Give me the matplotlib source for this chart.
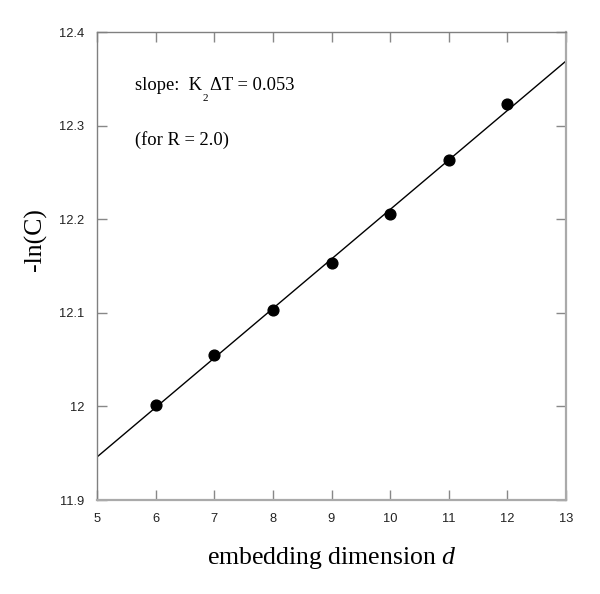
import matplotlib
matplotlib.use("Agg")
import matplotlib.pyplot as plt
import numpy as np

# data
dims = [6, 7, 8, 9, 10, 11, 12]
neg_ln_c = [12.002, 12.055, 12.103, 12.153, 12.206, 12.263, 12.323]
fit_x = [5, 13]
fit_y = [11.946, 12.369]

x_ticks = [5, 6, 7, 8, 9, 10, 11, 12, 13]
y_ticks = [11.9, 12.0, 12.1, 12.2, 12.3, 12.4]
y_labels = ["11.9", "12", "12.1", "12.2", "12.3", "12.4"]

plt.rcParams["mathtext.fontset"] = "custom"
plt.rcParams["mathtext.rm"] = "Liberation Serif"
plt.rcParams["mathtext.it"] = "Liberation Serif:italic"

fig = plt.figure(figsize=(6, 5.94), dpi=100)
ax = fig.add_axes([0.1617, 0.1582, 0.7816, 0.7879])

# fit line and data points
ax.plot(fit_x, fit_y, color="black", lw=1.0)
ax.scatter(dims, neg_ln_c, s=60, color="black", zorder=3)

ax.set_xlim(5, 13)
ax.set_ylim(11.9, 12.4)
ax.set_xticks(x_ticks)
ax.set_yticks(y_ticks)
ax.set_yticklabels(y_labels)

ax.tick_params(direction="in", length=7, width=1, color="#888888",
               top=True, right=True, labelsize=9.3, pad=9)
for lbl in ax.get_xticklabels() + ax.get_yticklabels():
    lbl.set_family("Liberation Sans")
    lbl.set_color("#222222")

for side in ["left", "top"]:
    ax.spines[side].set_color("#808080")
    ax.spines[side].set_linewidth(1.0)
for side in ["right", "bottom"]:
    ax.spines[side].set_color("#aaaaaa")
    ax.spines[side].set_linewidth(1.6)

ax.set_xlabel("embedding dimension $\\mathit{d}$", family="Liberation Serif",
              fontsize=18.5, labelpad=15)
ax.set_ylabel("-ln(C)", family="Liberation Serif", fontsize=18.5)
ax.yaxis.set_label_coords(-0.107, 0.556)

# annotation: K with a low subscript 2, then the rest
t1 = ax.text(0.081, 0.876, "slope:  K", transform=ax.transAxes,
             family="Liberation Serif", fontsize=13.3, va="baseline")
ax.annotate("2", xy=(1, 0), xycoords=t1, xytext=(0.7, 0),
            textcoords="offset points", family="Liberation Serif",
            fontsize=8, va="top")
ax.annotate("ΔT = 0.053", xy=(1, 0), xycoords=t1, xytext=(6, 0),
            textcoords="offset points", family="Liberation Serif",
            fontsize=13.3, va="bottom")
ax.text(0.081, 0.77, "(for R = 2.0)", transform=ax.transAxes,
        family="Liberation Serif", fontsize=13.3, va="center")

fig.savefig("out.png")
